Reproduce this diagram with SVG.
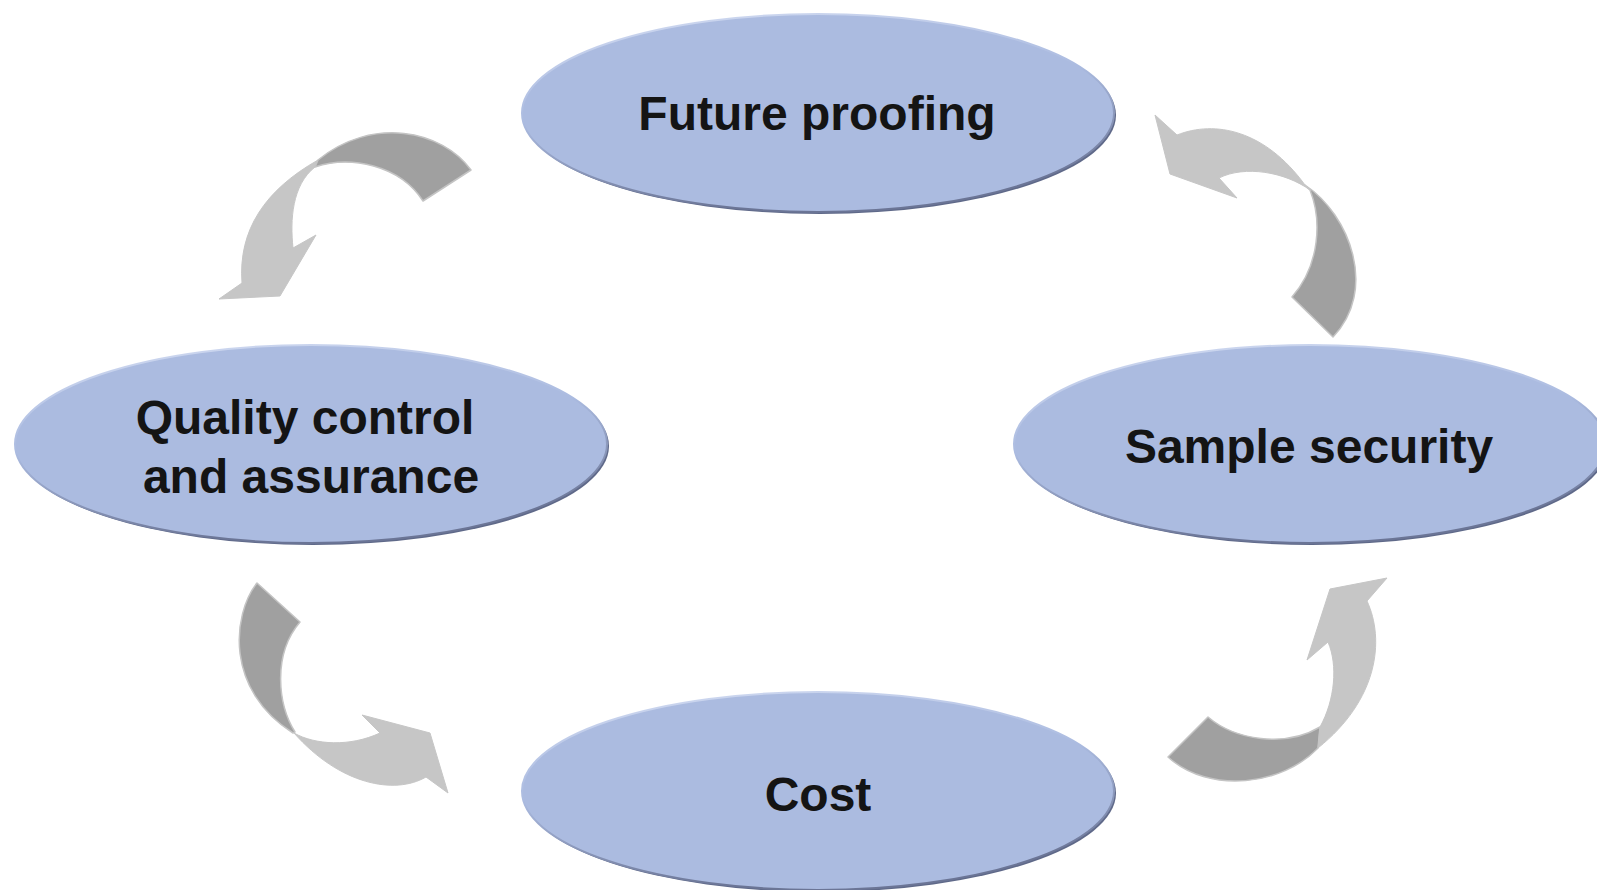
<svg xmlns="http://www.w3.org/2000/svg" width="1597" height="890" viewBox="0 0 1597 890">
<defs>
<style>
.shadow{fill:#5f6989;}
.ell{fill:#abbbe0;stroke:url(#rim);stroke-width:2;}
.lbl{font-family:"Liberation Sans",Arial,sans-serif;font-weight:bold;font-size:48px;fill:#141414;text-anchor:middle;}
.dark{fill:#a0a0a0;stroke:#c4c4c4;stroke-width:1.5;stroke-linejoin:round;}
.light{fill:#c6c6c6;stroke:#c6c6c6;stroke-width:1;stroke-linejoin:round;}
</style>
<linearGradient id="rim" x1="0" y1="0" x2="0.3" y2="1">
<stop offset="0" stop-color="#d3dcf2"/>
<stop offset="0.5" stop-color="#abbbe0"/>
<stop offset="1" stop-color="#6b7596"/>
</linearGradient>
</defs>
<rect width="1597" height="890" fill="#ffffff"/>
<g id="connectors">
<g id="arrow-top-left">
<path class="light" d="M318,160 C265,190 238,230 242,283 L219,299 L280,296 L316,235 L293,248 C290,220 292,185 315,167 Z"/>
<path class="dark" d="M471,170 C442,130 372,116 318,160 L315,167 C350,155 400,165 423,201 Z"/>
</g>
<g id="arrow-top-right">
<path class="dark" d="M1305,185 C1350,215 1378,290 1333,337 L1292,297 C1320,265 1322,220 1310,190 Z"/>
<path class="light" d="M1305,185 C1265,130 1215,120 1177,135 L1155,115 L1170,174 L1237,198 L1219,178 C1245,165 1285,172 1310,190 Z"/>
</g>
<g id="arrow-bottom-left">
<path class="light" d="M294,733 C315,745 350,747 380,733 L362,715 L430,733 L448,793 L426,777 C395,795 340,785 294,733 Z"/>
<path class="dark" d="M257,583 C232,615 225,690 293,733 L295,732 C278,705 272,655 300,622 Z"/>
</g>
<g id="arrow-bottom-right">
<path class="dark" d="M1208,717 C1235,740 1285,748 1320,727 L1318,748 C1283,785 1210,795 1168,757 Z"/>
<path class="light" d="M1320,727 C1335,700 1338,665 1328,642 L1307,660 L1330,589 L1387,578 L1367,601 C1385,640 1378,700 1318,748 Z"/>
</g>
</g>
<g id="node-future">
<ellipse class="shadow" cx="820" cy="115" rx="296" ry="99"/>
<ellipse class="ell" cx="818" cy="113" rx="296" ry="99"/>
<text class="lbl" x="817" y="130">Future proofing</text>
</g>
<g id="node-quality">
<ellipse class="shadow" cx="313" cy="446" rx="296" ry="99"/>
<ellipse class="ell" cx="311" cy="444" rx="296" ry="99"/>
<text class="lbl" x="305" y="434">Quality control</text>
<text class="lbl" x="311" y="493">and assurance</text>
</g>
<g id="node-sample">
<ellipse class="shadow" cx="1312" cy="446" rx="296" ry="99"/>
<ellipse class="ell" cx="1310" cy="444" rx="296" ry="99"/>
<text class="lbl" x="1309" y="463">Sample security</text>
</g>
<g id="node-cost">
<ellipse class="shadow" cx="820" cy="793" rx="296" ry="99"/>
<ellipse class="ell" cx="818" cy="791" rx="296" ry="99"/>
<text class="lbl" x="818" y="811">Cost</text>
</g>
</svg>
